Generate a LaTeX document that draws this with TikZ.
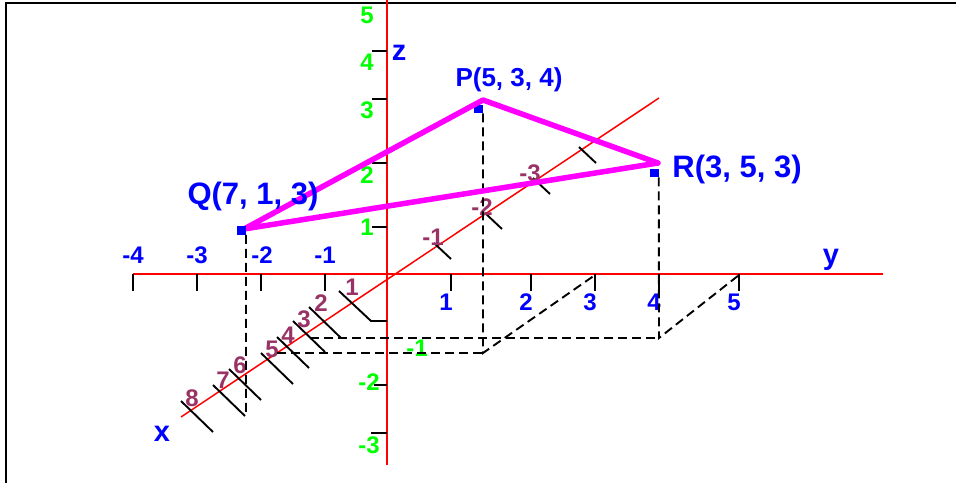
\documentclass[tikz,border=0pt]{standalone}
\usepackage{fontspec}
\setmainfont{Liberation Sans}
\usetikzlibrary{positioning}
\definecolor{axred}{RGB}{255,0,0}
\definecolor{labblue}{RGB}{0,0,255}
\definecolor{labgreen}{RGB}{0,255,0}
\definecolor{labmaroon}{RGB}{153,51,102}
\definecolor{trimag}{RGB}{255,0,255}

\begin{document}
\begin{tikzpicture}[
  x=1pt, y=-1pt,
  axis/.style={draw=axred, line width=#1},
  tk/.style={draw=black, line width=1.9pt},
  proj/.style={draw=black, line width=1.9pt, dash pattern=on 9pt off 5pt},
  side/.style={draw=trimag, line width=5.5pt, line join=round},
  vtx/.style={fill=labblue, inner sep=0pt, minimum size=8.5pt},
  lab/.style={text=#1, font=\fontsize{24}{26}\selectfont\bfseries, inner sep=0pt},
  ptlab/.style={text=labblue, font=\fontsize{#1}{#1}\selectfont\bfseries, inner sep=0pt},
]
  \useasboundingbox (0,0) rectangle (956,483);
  \draw[line width=2.5pt] (6,483) -- (6,3) -- (956,3);

  \draw[axis=1.9pt] (133,274) -- (883,274);
  \draw[axis=1.9pt] (387,0) -- (387,465);
  \draw[axis=1.5pt] (181,417) -- (659,98);

  \foreach \px in {133,197,261,325,451,531,595,659,739}
    \draw[tk] (\px,274) -- (\px,291);
  \foreach \py in {51,99,163,227}
    \draw[tk] (372,\py) -- (387,\py);
  \draw[tk] (374,385) -- (387,385);
  \draw[tk] (371,433) -- (387,433);

  \draw[tk] (339,291) -- (371,321) -- (387,321);
  \foreach \sx/\sy in {309/307,293/321,277/337,261/353,229/369,213/385,181/401}
    \draw[tk] (\sx,\sy) -- ++(32,31);
  \foreach \sx/\sy in {434/243,485/213,533/178,579/147}
    \draw[tk] (\sx,\sy) -- ++(17,16);

  \foreach \v/\px [count=\i] in {-4/133,-3/197,-2/262,-1/325}
    \node[lab=labblue] (yneg\i) at (\px,255) {\v};
  \foreach \v/\px in {1/446,2/526,3/590,4/654,5/734}
    \node[lab=labblue] (ypos\v) at (\px,302) {\v};

  \foreach \v/\py in {5/15,4/62,3/110,2/175,1/227}
    \node[lab=labgreen] (zpos\v) at (367,\py) {\v};
  \node[lab=labgreen] (zneg1) at (417,348) {-1};
  \node[lab=labgreen] (zneg2) at (369,382) {-2};
  \node[lab=labgreen] (zneg3) at (369,445) {-3};

  \foreach \v/\px/\py in {1/352/287,2/321/303,3/304/319,4/288/335,5/272/349,6/240/365,7/223/380,8/192/398}
    \node[lab=labmaroon] (xpos\v) at (\px,\py) {\v};
  \foreach \v/\px/\py [count=\i] in {-1/433/237,-2/482/207,-3/530/173}
    \node[lab=labmaroon] (xneg\i) at (\px,\py) {\v};

  \node[ptlab=29] (xname) at (162,434) {x};
  \node[ptlab=29] (yname) at (831,260) {y};
  \node[ptlab=29] (zname) at (399,53) {z};

  \coordinate (q) at (244,229);
  \coordinate (p) at (483,100);
  \coordinate (r) at (658,163);
  \coordinate (qf) at (246,416);
  \coordinate (pf) at (483,353);
  \coordinate (rf) at (659,338);
  \coordinate (py) at (595,275);
  \coordinate (ry) at (739,275);
  \coordinate (a3) at (310,338);
  \coordinate (a5) at (277,353);

  \node[vtx] (qs) at (241.5,230.5) {};
  \node[vtx] (ps) at (478.5,109) {};
  \node[vtx] (rs) at (654.3,173) {};

  \draw[proj] (qs.south east) -- (qf);
  \draw[proj] (ps.south east) -- (pf) -- (py);
  \draw[proj] (a5) -- (pf);
  \draw[proj] (rs.south east) -- (rf) -- (ry);
  \draw[proj] (a3) -- (rf);

  \draw[side] (q) -- (p) -- (r) -- cycle;
  \node[vtx] at (qs) {};

  \node[ptlab=26] (plab) at (509,80) {P(5, 3, 4)};
  \node[ptlab=31] (rlab) at (737,169) {R(3, 5, 3)};
  \node[ptlab=31] (qlab) at (253,196) {Q(7, 1, 3)};
\end{tikzpicture}
\end{document}
